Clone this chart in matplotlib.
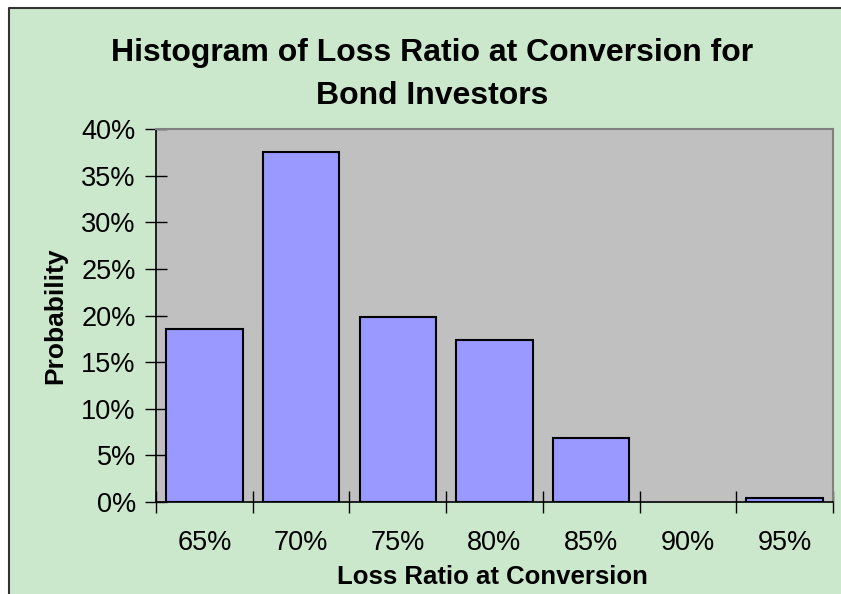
import matplotlib
matplotlib.use("Agg")
import matplotlib.pyplot as plt
import matplotlib.patches as patches
from matplotlib.lines import Line2D
from matplotlib.ticker import FixedLocator, NullFormatter, PercentFormatter

# ── data ─────────────────────────────────────────────────────────────────────
categories = ["65%", "70%", "75%", "80%", "85%", "90%", "95%"]
probability = [18.5, 37.5, 19.8, 17.4, 6.9, 0.0, 0.4]   # percent
y_ticks = [0, 5, 10, 15, 20, 25, 30, 35, 40]

plt.rcParams["font.family"] = ["Liberation Sans", "DejaVu Sans"]

W, H = 841, 594
fig = plt.figure(figsize=(W / 100, H / 100), dpi=100)
fig.patch.set_facecolor("#CCE8CC")

# white margin outside the chart frame (left / top), frame line on those edges
fig.add_artist(patches.Rectangle((0, 0), 9 / W, 1, transform=fig.transFigure,
                                 facecolor="white", edgecolor="none", zorder=0))
fig.add_artist(patches.Rectangle((0, 1 - 8 / H), 1, 8 / H, transform=fig.transFigure,
                                 facecolor="white", edgecolor="none", zorder=0))
fig.add_artist(Line2D([9 / W, 9 / W, 1.01], [-0.01, 1 - 8 / H, 1 - 8 / H],
                      transform=fig.transFigure, color="#333333", linewidth=1.5))

ax = fig.add_axes([156 / W, 1 - 502 / H, (833 - 156) / W, (502 - 129) / H])
ax.set_facecolor("#C0C0C0")

x = list(range(len(categories)))
edges = ["black" if v > 0 else "none" for v in probability]
ax.bar(x, probability, width=0.79, color="#9999FF", edgecolor=edges,
       linewidth=1.5, zorder=3)

ax.set_xlim(-0.5, len(categories) - 0.5)
ax.set_ylim(0, 40)

# y axis: percent ticks crossing the axis line
ax.set_yticks(y_ticks)
ax.yaxis.set_major_formatter(PercentFormatter(decimals=0))
ax.tick_params(axis="y", direction="inout", length=16, width=1,
               labelsize=19.5, pad=6.5)

# x axis: ticks on category boundaries, labels in the middle
ax.xaxis.set_major_locator(FixedLocator([i - 0.5 for i in range(len(categories) + 1)]))
ax.xaxis.set_major_formatter(NullFormatter())
ax.xaxis.set_minor_locator(FixedLocator(x))
ax.set_xticklabels(categories, minor=True)
ax.tick_params(axis="x", which="major", direction="inout", length=16, width=1)
ax.tick_params(axis="x", which="minor", length=0, labelsize=19.5, pad=20)

for side in ("left", "bottom"):
    ax.spines[side].set_color("black")
    ax.spines[side].set_linewidth(1.2)
for side in ("right", "top"):
    ax.spines[side].set_color("#808080")
    ax.spines[side].set_linewidth(1.5)

fig.text(432 / W, 1 - 53 / H, "Histogram of Loss Ratio at Conversion for",
         ha="center", va="center", fontsize=23, fontweight="bold")
fig.text(432 / W, 1 - 96 / H, "Bond Investors",
         ha="center", va="center", fontsize=23, fontweight="bold")
fig.text(492 / W, 1 - 577 / H, "Loss Ratio at Conversion", ha="center",
         va="center", fontsize=18.5, fontweight="bold")
fig.text(55 / W, 1 - 316 / H, "Probability", ha="center", va="center",
         rotation=90, fontsize=19, fontweight="bold")

plt.savefig("out.png", dpi=100)
